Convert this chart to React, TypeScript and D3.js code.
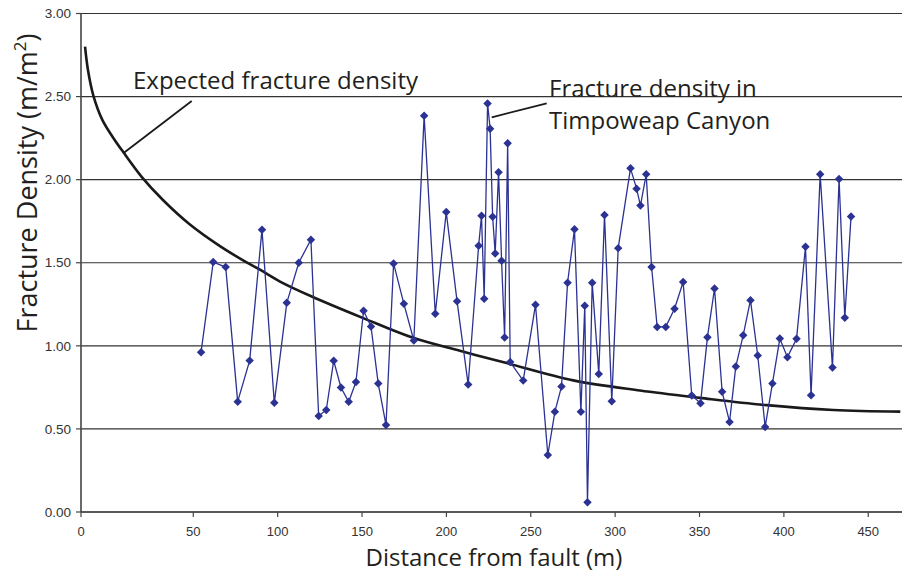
import React from "react";
import * as d3 from "d3";

const W = 902;
const H = 573;

const yTicks = [0, 0.5, 1, 1.5, 2, 2.5, 3];
const xTicks = [0, 50, 100, 150, 200, 250, 300, 350, 400, 450];

const distance = [
  54.6, 61.8, 69.2, 76.3, 83.4, 90.7, 98.0, 105.4, 112.5, 119.7, 124.3, 128.8, 133.2, 137.5,
  142.1, 146.4, 150.9, 155.3, 159.6, 164.2, 168.7, 174.8, 180.7, 186.8, 193.4, 199.9, 206.3,
  212.9, 219.1, 220.8, 222.4, 224.4, 225.9, 227.4, 228.9, 230.9, 232.7, 234.5, 236.3, 237.8,
  245.5, 252.8, 260.1, 264.3, 268.2, 271.8, 275.9, 279.7, 282.0, 283.6, 286.4, 290.3, 293.7,
  298.0, 301.8, 309.1, 312.7, 315.0, 318.4, 321.6, 324.9, 330.0, 335.2, 340.3, 345.4, 350.6,
  354.7, 358.9, 363.4, 367.8, 371.5, 375.9, 380.2, 384.5, 388.9, 393.2, 397.6, 402.1, 407.5,
  412.8, 416.1, 421.5, 428.8, 432.7, 436.1, 439.8,
];
const density = [
  0.962, 1.504, 1.474, 0.664, 0.911, 1.699, 0.657, 1.259, 1.5, 1.639, 0.578, 0.614, 0.91, 0.749,
  0.663, 0.783, 1.211, 1.117, 0.773, 0.524, 1.496, 1.253, 1.032, 2.384, 1.193, 1.805, 1.269,
  0.767, 1.602, 1.783, 1.283, 2.458, 2.307, 1.777, 1.556, 2.044, 1.512, 1.05, 2.219, 0.902,
  0.791, 1.247, 0.343, 0.604, 0.755, 1.38, 1.701, 0.604, 1.241, 0.058, 1.38, 0.831, 1.787,
  0.667, 1.588, 2.068, 1.946, 1.844, 2.032, 1.474, 1.114, 1.114, 1.223, 1.384, 0.701, 0.655,
  1.052, 1.345, 0.723, 0.542, 0.875, 1.064, 1.275, 0.942, 0.512, 0.773, 1.044, 0.932, 1.042,
  1.596, 0.703, 2.032, 0.869, 2.004, 1.169, 1.779,
];

const expectedX = [
  1.8, 3.1, 5.5, 9.5, 14.4, 18.8, 27.0, 36.6, 48.5, 65.8, 81.6, 89.5, 101.4, 120.2, 150.7, 180.3,
  208.0, 235.7, 275.2, 314.7, 350.3, 389.8, 429.3, 469,
];
const expectedY = [
  2.8, 2.66, 2.506, 2.36, 2.251, 2.166, 2.017, 1.876, 1.73, 1.6, 1.502, 1.458, 1.387, 1.297,
  1.167, 1.048, 0.97, 0.896, 0.792, 0.731, 0.687, 0.643, 0.614, 0.604,
];

export default function App() {
  const x = d3.scaleLinear().domain([0, 50, 470]).range([81, 193.3, 902]);
  const y = d3.scaleLinear().domain([0, 3]).range([512, 13.5]);

  const pts = distance.map((d, i) => [d, density[i]] as [number, number]);
  const exp = expectedX.map((d, i) => [d, expectedY[i]] as [number, number]);

  const line = d3
    .line<[number, number]>()
    .x((d) => x(d[0]))
    .y((d) => y(d[1]));
  const smooth = d3
    .line<[number, number]>()
    .x((d) => x(d[0]))
    .y((d) => y(d[1]))
    .curve(d3.curveCatmullRom.alpha(0.5));

  const diamond = d3.symbol().type(d3.symbolDiamond2).size(46)();

  const blue = "#2b3292";
  const font = "'Liberation Sans', Arial, sans-serif";
  const titleFont = "'Open Sans', 'Noto Sans', sans-serif";

  return (
    <svg
      width={W}
      height={H}
      style={{ position: "absolute", left: 0, top: 0, background: "#fff" }}
    >
      {/* gridlines */}
      {yTicks.map((t) => (
        <line
          key={"g" + t}
          x1={81}
          x2={902}
          y1={y(t)}
          y2={y(t)}
          stroke="#333"
          strokeWidth={1.1}
        />
      ))}
      {/* y axis */}
      <line x1={81} x2={81} y1={y(3)} y2={y(0)} stroke="#444" strokeWidth={1.6} />
      {yTicks.map((t) => (
        <g key={"yt" + t}>
          <line x1={76} x2={81} y1={y(t)} y2={y(t)} stroke="#444" strokeWidth={1.2} />
          <text
            x={71}
            y={y(t)}
            dy="0.35em"
            textAnchor="end"
            fontFamily={font}
            fontSize={13.5}
            fill="#333"
          >
            {d3.format(".2f")(t)}
          </text>
        </g>
      ))}
      {/* x axis */}
      <line x1={81} x2={902} y1={y(0)} y2={y(0)} stroke="#444" strokeWidth={1.4} />
      {xTicks.map((t) => (
        <g key={"xt" + t}>
          <line x1={x(t)} x2={x(t)} y1={y(0)} y2={y(0) + 5} stroke="#444" strokeWidth={1.2} />
          <text
            x={x(t)}
            y={536}
            textAnchor="middle"
            fontFamily={font}
            fontSize={13}
            fill="#333"
          >
            {t}
          </text>
        </g>
      ))}

      {/* expected curve */}
      <path d={smooth(exp) || ""} fill="none" stroke="#1a1a1a" strokeWidth={2.6} />

      {/* data series */}
      <path d={line(pts) || ""} fill="none" stroke={blue} strokeWidth={1.3} />
      {pts.map((p, i) => (
        <path key={i} d={diamond || ""} transform={`translate(${x(p[0])},${y(p[1])})`} fill={blue} />
      ))}

      {/* annotations */}
      <line x1={123.3} y1={153.3} x2={191.7} y2={101} stroke="#1a1a1a" strokeWidth={1.8} />
      <text x={133} y={89} fontFamily={titleFont} fontSize={24} fill="#231f20">
        Expected fracture density
      </text>
      <line x1={491.7} y1={117.3} x2={546.7} y2={103.3} stroke="#1a1a1a" strokeWidth={1.8} />
      <text x={549} y={97} fontFamily={titleFont} fontSize={24} fill="#231f20">
        Fracture density in
      </text>
      <text x={549} y={129} fontFamily={titleFont} fontSize={24} fill="#231f20">
        Timpoweap Canyon
      </text>

      {/* axis titles */}
      <text
        x={494}
        y={566}
        textAnchor="middle"
        fontFamily={titleFont}
        fontSize={24}
        fill="#231f20"
      >
        Distance from fault (m)
      </text>
      <text
        transform={`translate(37,${183}) rotate(-90)`}
        textAnchor="middle"
        fontFamily={titleFont}
        fontSize={27}
        fill="#231f20"
      >
        Fracture Density (m/m
        <tspan fontSize={17} dy={-11}>2</tspan>
        <tspan dy={11}>)</tspan>
      </text>
    </svg>
  );
}
